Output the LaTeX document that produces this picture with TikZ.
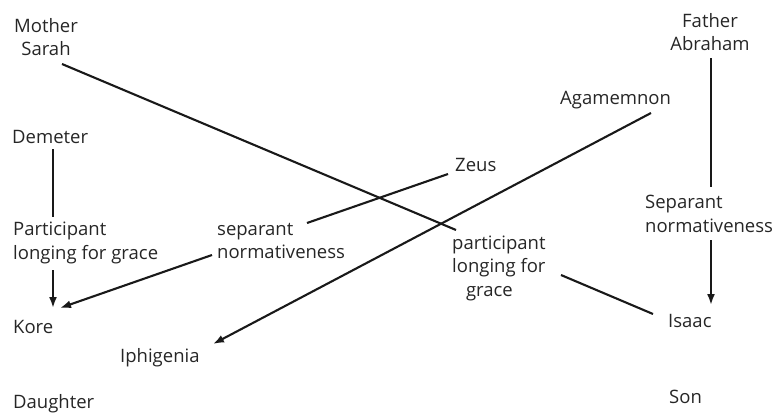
\documentclass[tikz,border=0pt]{standalone}
\usepackage{fontspec}
\setmainfont{Open Sans}
\usetikzlibrary{arrows.meta}
\begin{document}
\begin{tikzpicture}[x=1pt,y=-1pt,
  lbl/.style={inner sep=0pt,text=black!85,font=\fontsize{18.5}{23.5}\selectfont},
  lw/.style={lbl,anchor=west,align=left},
  conn/.style={line width=2.1pt,black!90},
  arr/.style={conn,-{Latex[length=11pt,width=8pt]}}]
\useasboundingbox (0,0) rectangle (777,416);
% nodes
\node[lbl,align=center] (ms) at (46,37) {Mother\\Sarah};
\node[lw] (dem) at (12,137) {Demeter};
\node[lw] (plg) at (13,243) {Participant\\longing for grace};
\node[lw] (kore) at (13,327) {Kore};
\node[lw] (dau) at (13,404) {Daughter};
\node[lw] (iph) at (120,358) {Iphigenia};
\node[lw] (sn) at (217,241) {separant\\normativeness};
\node[lw] (zeus) at (455,165) {Zeus};
\node[lw] (agam) at (560,100) {Agamemnon};
\node[lw] (pg) at (452,268) {participant\\longing for\\\hspace*{0.75em}grace};
\node[lbl,align=center] (fa) at (710,32) {Father\\Abraham};
\node[lw] (sn2) at (645,214) {Separant\\normativeness};
\node[lw] (isaac) at (668,321) {Isaac};
\node[lw] (son) at (669,397) {Son};
% connectors
\draw[conn] ([shift={(41,12)}]dem.west) -- ([shift={(40,-26)}]plg.west);
\draw[arr] ([shift={(40,27)}]plg.west) -- ([shift={(40,-19)}]kore.west);
\draw[arr] ([shift={(-5,14)}]sn.west) -- ([shift={(47,-19)}]kore.west);
\draw[conn] ([shift={(-7,9)}]zeus.west) -- ([shift={(90,-18)}]sn.west);
\draw[conn] ([shift={(16,27)}]ms.center) -- ([shift={(4,-38)}]pg.west);
\draw[arr] ([shift={(91,13)}]agam.west) -- ([shift={(93,-14)}]iph.west);
\draw[conn] ([shift={(109,7)}]pg.west) -- ([shift={(-15,-7)}]isaac.west);
\draw[conn] ([shift={(1,26)}]fa.center) -- ([shift={(66,-27)}]sn2.west);
\draw[arr] ([shift={(66,26)}]sn2.west) -- ([shift={(43,-16)}]isaac.west);
\end{tikzpicture}
\end{document}
